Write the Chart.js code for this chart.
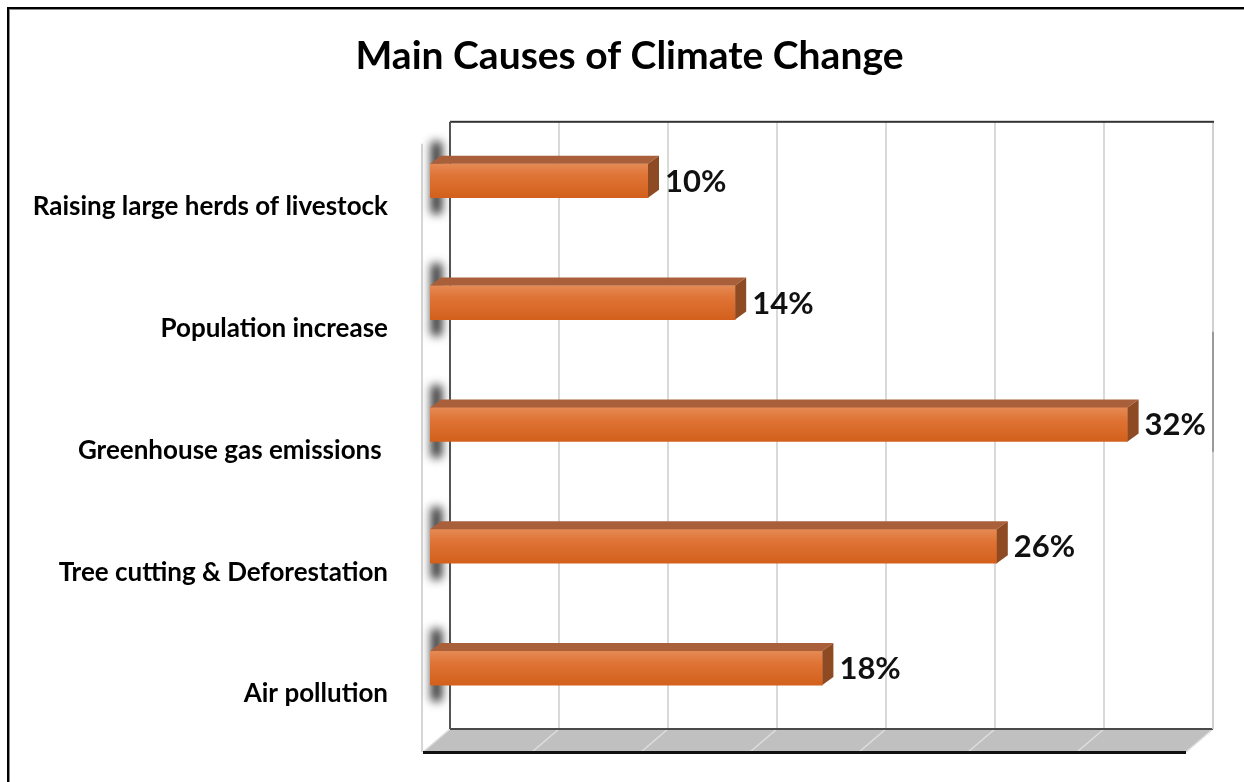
<!DOCTYPE html>
<html>
<head>
<meta charset="utf-8">
<title>Main Causes of Climate Change</title>
<script src="https://cdn.jsdelivr.net/npm/chart.js@4/dist/chart.umd.min.js"></script>
<style>
  html, body { margin: 0; padding: 0; background: #ffffff; }
  #wrap { width: 1244px; height: 782px; position: relative; }
</style>
</head>
<body>
<div id="wrap"><canvas id="chart" width="1244" height="782"></canvas></div>
<script>
// Categories, top to bottom
const causes = [
  'Raising large herds of livestock',
  'Population increase',
  'Greenhouse gas emissions ',
  'Tree cutting & Deforestation',
  'Air pollution'
];
// Share of each cause, in percent
const shares = [10, 14, 32, 26, 18];
// Value axis range and gridline steps (percent)
const axisMin = 0;
const axisMax = 35;
const gridSteps = [0, 5, 10, 15, 20, 25, 30, 35];

// 3D look: offsets of bar depth, back wall and floor front relative to the bar face plane
const BAR_DX = 11, BAR_DY = -8;
const WALL_DX = 20;
const FLOOR_FRONT_DX = -7, FLOOR_DEPTH = 23;

const FONT = 'Lato, "Open Sans", "DejaVu Sans", sans-serif';

function frontGradient(ctx, top, bottom) {
  const g = ctx.createLinearGradient(0, top, 0, bottom);
  g.addColorStop(0, '#e58a55');
  g.addColorStop(0.35, '#df7436');
  g.addColorStop(1, '#d3601c');
  return g;
}

const scene3d = {
  id: 'scene3d',
  beforeDraw(chart) {
    const ctx = chart.ctx;
    ctx.save();
    // outer frame (top and left)
    ctx.fillStyle = '#000000';
    ctx.fillRect(7, 7, chart.width - 7, 2);
    ctx.fillRect(7, 7, 2, chart.height - 7);
    ctx.fillStyle = '#8a8a8a';
    ctx.fillRect(9, 9, chart.width - 9, 1);
    ctx.fillRect(9, 9, 1, chart.height - 9);
    ctx.restore();
  },
  beforeDatasetsDraw(chart) {
    const ctx = chart.ctx;
    const xs = chart.scales.x;
    const area = chart.chartArea;
    const wallTop = area.top + 2;
    const wallBottom = area.bottom;
    const floorFront = wallBottom + FLOOR_DEPTH;
    const backL = xs.getPixelForValue(axisMin) + WALL_DX;
    const backR = xs.getPixelForValue(axisMax) + WALL_DX;
    const frontL = xs.getPixelForValue(axisMin) + FLOOR_FRONT_DX;
    const frontR = xs.getPixelForValue(axisMax) + FLOOR_FRONT_DX;
    ctx.save();

    // left side wall edge
    ctx.strokeStyle = '#d6d6d6';
    ctx.lineWidth = 2;
    ctx.beginPath();
    ctx.moveTo(frontL - 1, wallTop + 22);
    ctx.lineTo(frontL - 1, floorFront);
    ctx.stroke();

    // floor
    ctx.fillStyle = '#c0c0c0';
    ctx.beginPath();
    ctx.moveTo(backL, wallBottom);
    ctx.lineTo(backR, wallBottom);
    ctx.lineTo(frontR, floorFront);
    ctx.lineTo(frontL, floorFront);
    ctx.closePath();
    ctx.fill();

    // back wall gridlines and their continuation across the floor
    gridSteps.forEach((v, i) => {
      const xb = xs.getPixelForValue(v) + WALL_DX;
      const xf = xs.getPixelForValue(v) + FLOOR_FRONT_DX;
      ctx.strokeStyle = '#d9d9d9';
      ctx.lineWidth = 2;
      if (i > 0 && i < gridSteps.length - 1) {
        ctx.beginPath();
        ctx.moveTo(xb, wallTop);
        ctx.lineTo(xb, wallBottom);
        ctx.stroke();
      }
      ctx.strokeStyle = '#dedede';
      ctx.lineWidth = 1.5;
      ctx.beginPath();
      ctx.moveTo(xb, wallBottom);
      ctx.lineTo(xf, floorFront);
      ctx.stroke();
    });

    // floor edges
    ctx.fillStyle = '#4a4a4a';
    ctx.fillRect(backL, wallBottom - 1, backR - backL, 2);
    ctx.fillStyle = '#111111';
    ctx.fillRect(frontL, floorFront - 1, frontR - frontL, 3);

    // back wall frame
    ctx.fillStyle = '#d0d0d0';
    ctx.fillRect(backR - 1, wallTop, 2, wallBottom - wallTop);
    ctx.fillStyle = '#9a9a9a';
    ctx.fillRect(backR - 1, wallTop + 210, 2, 120);
    ctx.fillStyle = '#333333';
    ctx.fillRect(backL, wallTop - 1, backR - backL + 1, 2);
    ctx.fillStyle = '#555555';
    ctx.fillRect(backL - 1, wallTop, 2, wallBottom - wallTop);

    // soft shadows of the bars on the side wall
    const meta = chart.getDatasetMeta(0);
    ctx.filter = 'blur(5px)';
    meta.data.forEach(bar => {
      const half = bar.height / 2;
      ctx.fillStyle = 'rgba(25,25,25,0.9)';
      ctx.fillRect(xs.getPixelForValue(axisMin) + 1, bar.y - half - 22, 11, bar.height + 38);
    });
    ctx.filter = 'none';
    ctx.restore();
  },
  afterDatasetsDraw(chart) {
    const ctx = chart.ctx;
    const meta = chart.getDatasetMeta(0);
    ctx.save();
    meta.data.forEach((bar, i) => {
      const half = bar.height / 2;
      const top = bar.y - half, bottom = bar.y + half;
      const x0 = bar.base, x1 = bar.x;
      // top face
      ctx.fillStyle = '#a9603a';
      ctx.beginPath();
      ctx.moveTo(x0, top);
      ctx.lineTo(x0 + BAR_DX, top + BAR_DY);
      ctx.lineTo(x1 + BAR_DX, top + BAR_DY);
      ctx.lineTo(x1, top);
      ctx.closePath();
      ctx.fill();
      // end face
      ctx.fillStyle = '#8e4a23';
      ctx.beginPath();
      ctx.moveTo(x1, top);
      ctx.lineTo(x1 + BAR_DX, top + BAR_DY);
      ctx.lineTo(x1 + BAR_DX, bottom + BAR_DY);
      ctx.lineTo(x1, bottom);
      ctx.closePath();
      ctx.fill();
      // value label
      ctx.fillStyle = '#111111';
      ctx.font = 'bold 31px ' + FONT;
      ctx.textAlign = 'left';
      ctx.textBaseline = 'middle';
      ctx.fillText(shares[i] + '%', x1 + BAR_DX + 6, bar.y + 1);
    });
    ctx.restore();
  }
};

new Chart(document.getElementById('chart'), {
  type: 'bar',
  data: {
    labels: causes,
    datasets: [{
      data: shares,
      barThickness: 34,
      borderWidth: 0,
      backgroundColor(context) {
        const chart = context.chart;
        const ys = chart.scales.y;
        if (!chart.chartArea || !ys) return '#dc6c2b';
        const cy = ys.getPixelForValue(context.dataIndex);
        return frontGradient(chart.ctx, cy - 17, cy + 17);
      }
    }]
  },
  options: {
    indexAxis: 'y',
    responsive: false,
    animation: false,
    events: [],
    layout: { padding: { left: 16, right: 1, top: 0, bottom: 53 } },
    plugins: {
      legend: { display: false },
      tooltip: { enabled: false },
      title: {
        display: true,
        text: 'Main Causes of Climate Change',
        color: '#000000',
        font: { family: FONT, size: 39, weight: 'bold', lineHeight: 1.2 },
        padding: { top: 33, bottom: 40 }
      }
    },
    scales: {
      x: {
        display: false,
        min: axisMin,
        max: axisMax
      },
      y: {
        grid: { display: false, drawTicks: false },
        border: { display: false },
        ticks: {
          color: '#000000',
          padding: 42,
          labelOffset: 26,
          font: { family: FONT, size: 26, weight: 'bold' }
        },
        afterFit(axis) {
          axis.width = 414;
          axis.paddingTop = 0;
          axis.paddingBottom = 0;
        }
      },
      // empty right-hand margin beside the back wall
      yRight: {
        type: 'linear',
        position: 'right',
        grid: { display: false, drawTicks: false },
        border: { display: false },
        ticks: { display: false },
        afterFit(axis) {
          axis.width = 50;
          axis.paddingTop = 0;
          axis.paddingBottom = 0;
        }
      }
    }
  },
  plugins: [scene3d]
});
</script>
</body>
</html>
